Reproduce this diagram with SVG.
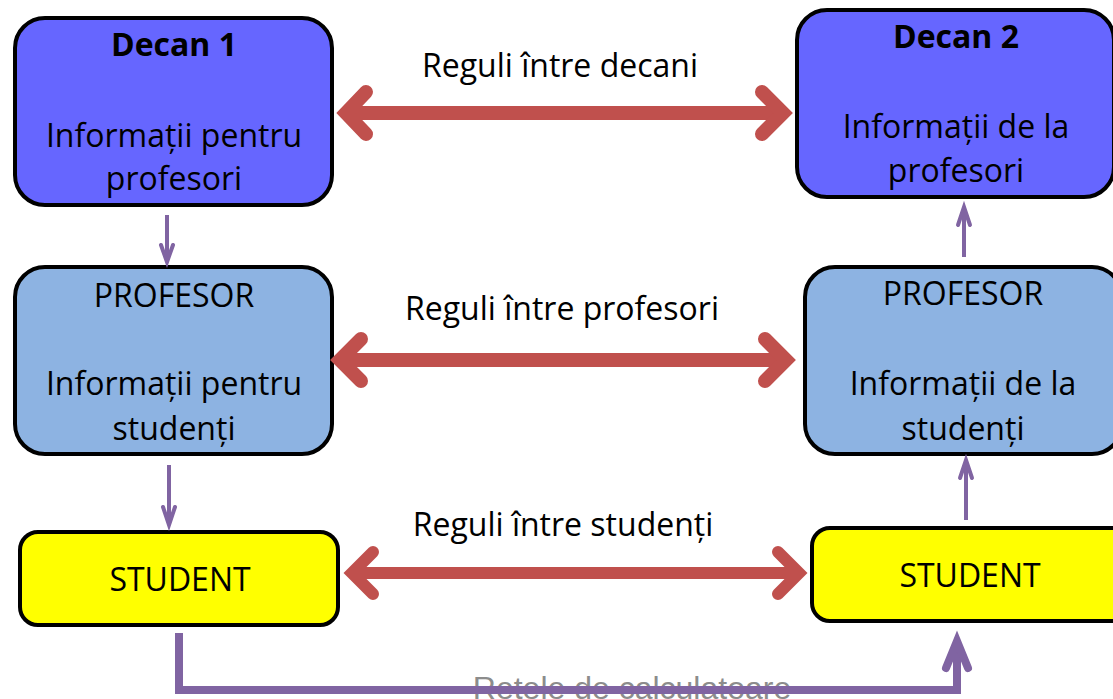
<svg xmlns="http://www.w3.org/2000/svg" width="1113" height="699" viewBox="0 0 1113 699">
<style>
.box{stroke:#000;stroke-width:4}
.dean{fill:#6666FF}
.prof{fill:#8DB3E2}
.stud{fill:#FFFF00}
text{font-family:"Open Sans","Noto Sans",sans-serif;font-size:32px;fill:#000;text-anchor:middle}
.b{font-weight:bold}
.red{stroke:#C0504D;fill:none;stroke-linecap:butt}
.redhead{stroke:#C0504D;fill:none;stroke-linecap:round;stroke-linejoin:miter}
.pur{stroke:#8064A2;fill:none;stroke-linejoin:miter}
.purhead{stroke:#8064A2;fill:none;stroke-linecap:round;stroke-linejoin:miter}
.gray{font-family:"Liberation Sans",Arial,sans-serif;fill:#8C8C8C}
</style>
<rect width="1113" height="699" fill="#fff"/>
<text class="gray" x="632" y="699">Retele de calculatoare</text>
<g id="decan1">
<rect class="box dean" x="15" y="18" width="317" height="187" rx="30"/>
<text class="b" x="174" y="56">Decan 1</text>
<text x="174" y="147">Informații pentru</text>
<text x="174" y="190">profesori</text>
</g>
<g id="decan2">
<rect class="box dean" x="797" y="10" width="317" height="187" rx="30"/>
<text class="b" x="956" y="48">Decan 2</text>
<text x="956" y="138">Informații de la</text>
<text x="956" y="182">profesori</text>
</g>
<g id="profesor1">
<rect class="box prof" x="15" y="267" width="317" height="187" rx="30"/>
<text x="174" y="307">PROFESOR</text>
<text x="174" y="395">Informații pentru</text>
<text x="174" y="440">studenți</text>
</g>
<g id="profesor2">
<rect class="box prof" x="805" y="267" width="317" height="187" rx="30"/>
<text x="963" y="305">PROFESOR</text>
<text x="963" y="395">Informații de la</text>
<text x="963" y="440">studenți</text>
</g>
<g id="student1">
<rect class="box stud" x="20" y="532" width="318" height="93" rx="18"/>
<text x="180" y="591">STUDENT</text>
</g>
<g id="student2">
<rect class="box stud" x="812" y="528" width="318" height="93" rx="18"/>
<text x="970" y="587">STUDENT</text>
</g>
<g id="connectors">
<text x="560" y="77">Reguli între decani</text>
<line class="red" x1="345" y1="113" x2="783" y2="113" stroke-width="14"/>
<polyline class="redhead" points="366,92 346,113 366,134" stroke-width="14"/>
<polyline class="redhead" points="762,92 783,113 762,134" stroke-width="14"/>

<text x="562" y="320">Reguli între profesori</text>
<line class="red" x1="340" y1="360" x2="786" y2="360" stroke-width="14"/>
<polyline class="redhead" points="361,339 340,360 361,381" stroke-width="14"/>
<polyline class="redhead" points="765,339 786,360 765,381" stroke-width="14"/>

<text x="563" y="536">Reguli între studenți</text>
<line class="red" x1="352" y1="573" x2="799" y2="573" stroke-width="12"/>
<polyline class="redhead" points="373,552 352,573 373,594" stroke-width="12"/>
<polyline class="redhead" points="778,552 799,573 778,594" stroke-width="12"/>

<line class="pur" x1="167" y1="215" x2="167" y2="260" stroke-width="4"/>
<polyline class="purhead" points="161,245 167,262 173,245" stroke-width="4"/>
<line class="pur" x1="169" y1="465" x2="169" y2="524" stroke-width="4"/>
<polyline class="purhead" points="163,507 169,525 175,507" stroke-width="4"/>
<line class="pur" x1="966" y1="520" x2="966" y2="461" stroke-width="4"/>
<polyline class="purhead" points="960,478 966,460 972,478" stroke-width="4"/>
<line class="pur" x1="964" y1="257" x2="964" y2="208" stroke-width="4"/>
<polyline class="purhead" points="958,225 964,207 970,225" stroke-width="4"/>

<path class="pur" d="M179,633 V690 H957 V642" stroke-width="8"/>
<polyline class="purhead" points="946,668 957,641 968,668" stroke-width="8"/>
</g>
</svg>
